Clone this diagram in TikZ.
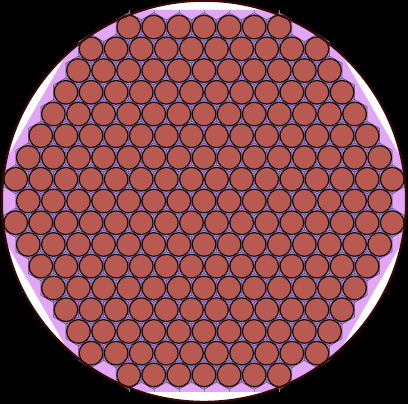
\documentclass[tikz,border=0pt]{standalone}
\definecolor{lilac}{HTML}{E3A6F7}
\definecolor{copper}{HTML}{B95A52}
\definecolor{gapfill}{HTML}{B486DA}
\definecolor{rimcol}{HTML}{3C0A05}
\begin{document}
\begin{tikzpicture}[x=1pt, y=-1pt,
     rim/.style={draw=rimcol, line width=2pt},
     strand/.style={fill=copper, draw=black, line width=1.1pt},
     cell/.style={fill=gapfill, draw=black!45!gapfill, line width=0.5pt},
     meshtick/.style={draw=black!45, line width=0.4pt}]
  \useasboundingbox (0,0) rectangle (408,404);
  \fill[black] (0,0) rectangle (408,404);
  \fill[white] (204,201.3) ellipse (202pt and 200.5pt);
  % filler, cut by the sheath
  \begin{scope}
    \clip (204,201.3) ellipse (202pt and 200.5pt);
    \fill[lilac] (92,10) -- (316,10) -- (426,201) -- (316,392) -- (92,392) -- (-18,201) -- cycle;
  \end{scope}
  % strands row by row: row / half width
  \foreach \j/\m in {-8/3,-7/4.5,-6/5,-5/5.5,-4/6,-3/6.5,-2/7,-1/7.5,0/7,1/7.5,2/7,3/6.5,4/6,5/5.5,6/5,7/4.5,8/3} {
    \pgfmathtruncatemacro\c{2*\m}
    \foreach \i in {0,...,\c} {
      \pgfmathsetmacro\x{204+(\i-\m)*25.1}
      \pgfmathsetmacro\y{201+\j*21.74}
      \draw[cell] (\x,\y) +(90:14.49) -- +(150:14.49) -- +(210:14.49) -- +(270:14.49) -- +(330:14.49) -- +(30:14.49) -- cycle;
      \draw[strand] (\x,\y) circle (11.85pt);
    }
  }
  % mesh ticks above and below the outer rows
  \foreach \i in {-3,...,3} {
    \draw[meshtick] (204+\i*25.1,10) -- (204+\i*25.1,12.6);
    \draw[meshtick] (204+\i*25.1,392) -- (204+\i*25.1,389.4);
  }
  \draw[rim] (204,201.3) ellipse (202pt and 200.5pt);
\end{tikzpicture}
\end{document}
